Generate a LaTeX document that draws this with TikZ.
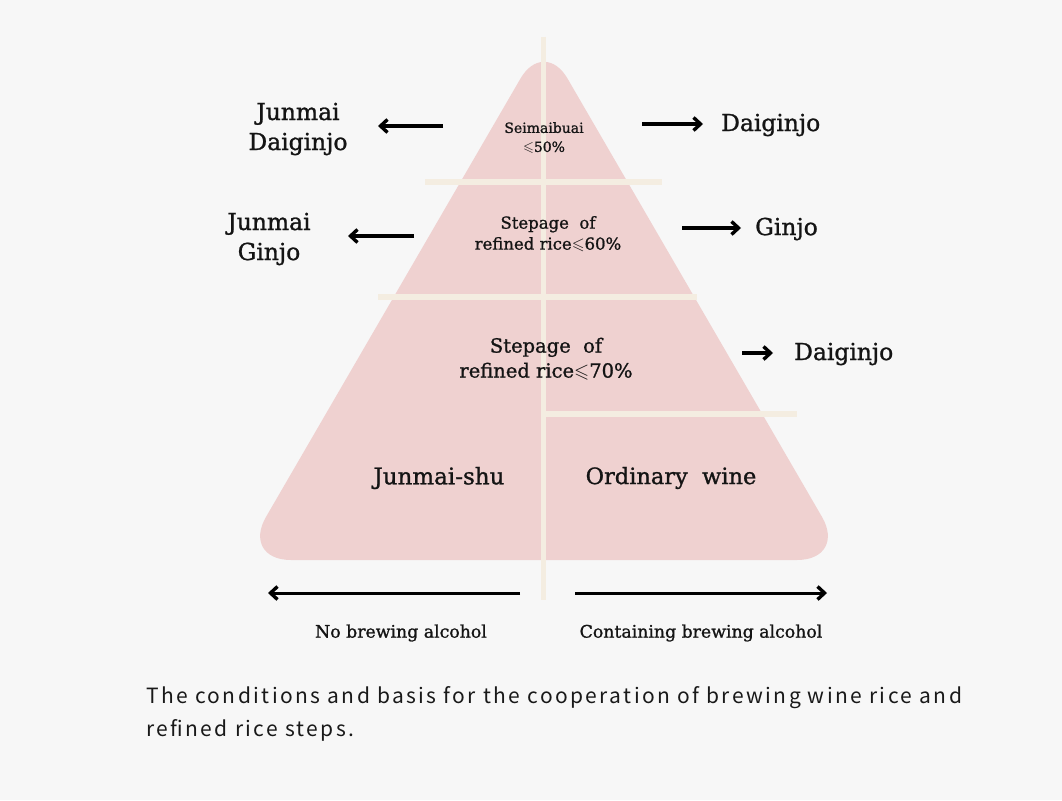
\documentclass[tikz,border=0pt]{standalone}
\usepackage{fontspec}
\usepackage{amssymb}
\usetikzlibrary{arrows.meta}
\setmainfont{DejaVu Serif}
\newfontfamily\heavy[FakeBold=1.1]{DejaVu Serif}
\newfontfamily\capfont[LetterSpace=11.5]{Noto Sans CJK KR}
\definecolor{bg}{RGB}{247,247,247}
\definecolor{pyr}{RGB}{239,209,208}
\definecolor{cream}{RGB}{244,237,225}
\tikzset{
  lbl/.style={inner sep=0pt, align=center, text=black!92, font=\heavy\fontsize{23.4}{30}\selectfont},
  inlbl/.style={inner sep=0pt, align=center, text=black!92},
  arr/.style={line width=3.4pt, -{Straight Barb[length=7pt,width=13pt,line width=3.4pt]}},
  divider/.style={cream, line width=6pt},
}
\begin{document}
\begin{tikzpicture}[x=1pt,y=-1pt]
\fill[bg] (0,0) rectangle (1062,800);
\useasboundingbox (0,0) rectangle (1062,800);
% pyramid
\fill[pyr] (291,560) .. controls (263.4,560) and (252.2,540.6) .. (266.1,516.75)
  -- (520.4,78.7) .. controls (533.4,56.2) and (554.6,56.2) .. (567.6,78.7)
  -- (821.9,516.75) .. controls (835.8,540.6) and (824.6,560) .. (797,560) -- cycle;
% dividers
\draw[divider] (425,182) -- (662,182);
\draw[divider] (378,297) -- (697,297);
\draw[divider] (544,414) -- (797,414);
\draw[cream, line width=5pt] (543,37) -- (543,600);
% inner labels
\node[inlbl, font=\heavy\fontsize{14}{19}\selectfont] (l50) at (544,138) {Seimaibuai\\$\leqslant$50\%};
\node[inlbl, font=\heavy\fontsize{16.5}{21}\selectfont] (l60) at (548,234) {Stepage\ \ of\\refined rice$\leqslant$60\%};
\node[inlbl, font=\heavy\fontsize{19.5}{25}\selectfont] (l70) at (546,359) {Stepage\ \ of\\refined rice$\leqslant$70\%};
\node[inlbl, font=\heavy\fontsize{23}{25}\selectfont] (jshu) at (439,478) {Junmai-shu};
\node[inlbl, font=\heavy\fontsize{22.5}{25}\selectfont] (ordw) at (671,478) {Ordinary\ \ wine};
% outer labels
\node[lbl] (jdai) at (298,129) {Junmai\\Daiginjo};
\node[lbl] (jgin) at (269,239) {Junmai\\Ginjo};
\node[lbl, anchor=west] (dai1) at (721,125) {Daiginjo};
\node[lbl, anchor=west] (gin) at (755,229) {Ginjo};
\node[lbl, anchor=west] (dai2) at (794,354) {Daiginjo};
% arrows
\coordinate (a1s) at (443,126); \coordinate (a1e) at (378,126);
\coordinate (a2s) at (414,236); \coordinate (a2e) at (348,236);
\coordinate (a3s) at (642,124); \coordinate (a3e) at (703,124);
\coordinate (a4s) at (682,228); \coordinate (a4e) at (741,228);
\coordinate (a5s) at (742,353); \coordinate (a5e) at (773,353);
\draw[arr] (a1s) -- (a1e);
\draw[arr] (a2s) -- (a2e);
\draw[arr] (a3s) -- (a3e);
\draw[arr] (a4s) -- (a4e);
\draw[arr] (a5s) -- (a5e);
% bottom arrows
\coordinate (b1s) at (520,593); \coordinate (b1e) at (268,593);
\coordinate (b2s) at (575,593); \coordinate (b2e) at (827,593);
\draw[arr, line width=3pt] (b1s) -- (b1e);
\draw[arr, line width=3pt] (b2s) -- (b2e);
\node[inlbl, font=\heavy\fontsize{17.3}{20}\selectfont] (nob) at (401,633) {No\ brewing\ alcohol};
\node[inlbl, font=\heavy\fontsize{17.3}{20}\selectfont] (cont) at (701,633) {Containing\ brewing\ alcohol};
% caption
\node[anchor=west, inner sep=0pt, text=black!90, font=\capfont\fontsize{21}{33}\selectfont, align=left] (cap) at (146,714)
 {The conditions and basis for the cooperation of brewing wine rice and\\refined rice steps.};
\end{tikzpicture}
\end{document}
